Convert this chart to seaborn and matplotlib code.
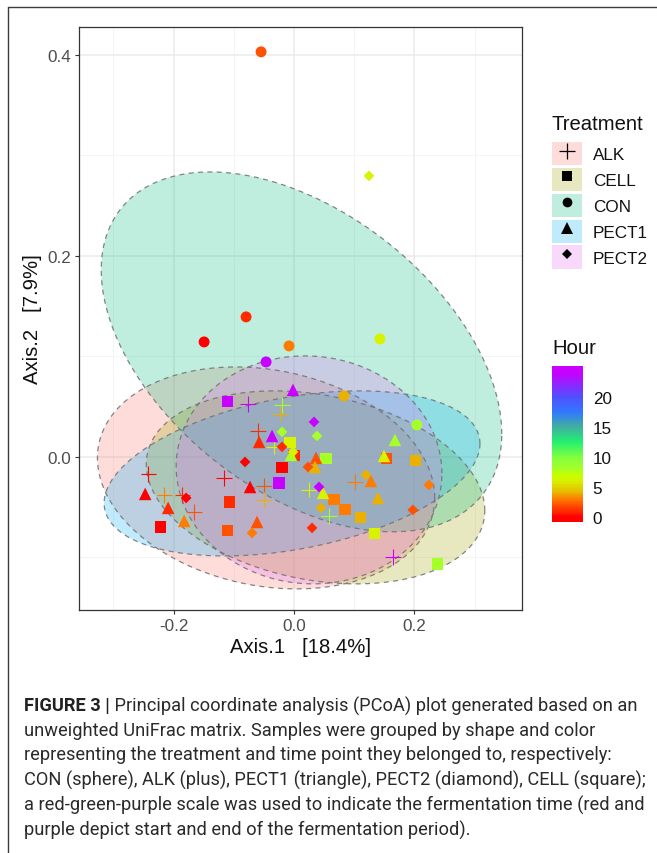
import numpy as np
import pandas as pd
import matplotlib
matplotlib.use("Agg")
import matplotlib.pyplot as plt
import seaborn as sns
from matplotlib.colors import LinearSegmentedColormap, Normalize
from matplotlib.cm import ScalarMappable
from matplotlib.patches import Patch
from matplotlib.lines import Line2D
from matplotlib.legend_handler import HandlerTuple
from matplotlib import font_manager
from matplotlib.font_manager import FontProperties

# ---------------- data ----------------
treatments = ["ALK", "CELL", "CON", "PECT1", "PECT2"]
treatment_fill = ["#F8766D", "#A3A500", "#00BF7D", "#00B0F6", "#E76BF3"]
treatment_marker = ["+", "s", "o", "^", "D"]

alk_x = [-0.0763, -0.0199, -0.0232, -0.0597, -0.0332, -0.2421, -0.1161, -0.0498,
         -0.2156, -0.1857, -0.1658, -0.0498, 0.0249, 0.1012, 0.0580, 0.1642]
alk_y = [0.0527, 0.0517, 0.0428, 0.0259, 0.0100, -0.0169, -0.0209, -0.0289,
         -0.0378, -0.0378, -0.0547, -0.0428, -0.0328, -0.0249, -0.0587, -0.0995]
alk_h = [24, 8, 4, 1, 6, 0, 0, 2, 3, 1, 2, 4, 6, 3, 8, 24]

cell_x = [-0.1111, -0.0066, 0.0000, -0.0199, -0.0249, -0.1078, -0.2222, -0.1111,
          0.0531, 0.1542, 0.2023, 0.0663, 0.0846, 0.1111, 0.1343, 0.2388]
cell_y = [0.0547, 0.0139, 0.0010, -0.0109, -0.0259, -0.0448, -0.0697, -0.0736,
          -0.0020, -0.0020, -0.0040, -0.0428, -0.0527, -0.0607, -0.0766, -0.1065]
cell_h = [24, 6, 1, 0, 24, 1, 0, 2, 8, 2, 4, 3, 3, 4, 6, 8]

con_x = [-0.0547, -0.0796, -0.1493, -0.0083, -0.0464, 0.1426, 0.0829, 0.2040]
con_y = [0.4030, 0.1393, 0.1144, 0.1104, 0.0945, 0.1174, 0.0607, 0.0318]
con_h = [2, 1, 0, 3, 24, 6, 4, 8]

pect1_x = [-0.0017, -0.0365, -0.0580, -0.0050, -0.2471, -0.0730, -0.2090, -0.1824,
           -0.0614, 0.0365, 0.0348, 0.1493, 0.1675, 0.1277, 0.0481, 0.1393]
pect1_y = [0.0667, 0.0209, 0.0149, 0.0020, -0.0368, -0.0299, -0.0507, -0.0637,
           -0.0647, -0.0010, -0.0100, 0.0010, 0.0169, -0.0239, -0.0358, -0.0408]
pect1_h = [24, 24, 1, 8, 0, 0, 1, 3, 2, 2, 4, 6, 8, 3, 6, 4]

pect2_x = [0.1244, -0.0199, -0.0199, -0.0813, -0.1791, -0.0697, 0.0332, 0.0381,
           -0.0017, 0.0232, 0.1194, 0.0415, 0.0448, 0.0299, 0.2239, 0.1973]
pect2_y = [0.2796, 0.0249, 0.0100, -0.0050, -0.0408, -0.0756, 0.0348, 0.0209,
           0.0050, -0.0100, -0.0179, -0.0299, -0.0507, -0.0706, -0.0279, -0.0527]
pect2_h = [6, 8, 1, 0, 0, 3, 24, 8, 6, 2, 4, 24, 4, 1, 3, 2]

# ellipse summaries per treatment (centre, half-extents, correlation)
ell_cx = [-0.0464, 0.0357, 0.0124, -0.0033, 0.0249]
ell_cy = [-0.0209, -0.0303, 0.1045, -0.0164, -0.0129]
ell_wx = [0.280, 0.281, 0.3325, 0.312, 0.2206]
ell_wy = [0.1104, 0.096, 0.179, 0.0821, 0.1134]
ell_rho = [-0.18, -0.24, -0.456, 0.36, -0.03]

x_ticks = [-0.2, 0.0, 0.2]
y_ticks = [0.0, 0.2, 0.4]
x_ticklabels = ["-0.2", "0.0", "0.2"]
y_ticklabels = ["0.0", "0.2", "0.4"]
hour_ticks = [0, 5, 10, 15, 20]

# hour colour scale
cmap_hours = [0, 1, 2, 3, 4, 6, 7, 8, 10, 12.5, 15, 17.5, 20, 24]
cmap_cols = ["#FF0000", "#FF2E00", "#FF5200", "#FF7B00", "#E9B400", "#D8F200",
             "#C4FF00", "#A6FF28", "#80FF40", "#22F070", "#40B0A0", "#3278FF",
             "#5050FF", "#C800FF"]
hmax = 24.0

frames = []
for name, xs, ys, hs in [("ALK", alk_x, alk_y, alk_h), ("CELL", cell_x, cell_y, cell_h),
                         ("CON", con_x, con_y, con_h), ("PECT1", pect1_x, pect1_y, pect1_h),
                         ("PECT2", pect2_x, pect2_y, pect2_h)]:
    frames.append(pd.DataFrame({"Treatment": name, "Axis.1": xs, "Axis.2": ys, "Hour": hs}))
df = pd.concat(frames, ignore_index=True)

# ---------------- style ----------------
sns.set_theme(style="white")
plt.rcParams["font.family"] = ["Liberation Sans", "DejaVu Sans"]

W, H = 657, 854
fig = plt.figure(figsize=(W / 100, H / 100), dpi=100)
fig.patch.set_facecolor("white")

def fx(px):
    return px / W

def fy(py):
    return 1 - py / H

L, R, T, B = 79, 521.7, 27.7, 610.7
ax = fig.add_axes([fx(L), fy(B), (R - L) / W, (B - T) / H])
ax.set_facecolor("white")

cmap = LinearSegmentedColormap.from_list(
    "hour", list(zip([h / hmax for h in cmap_hours], cmap_cols)))
norm = Normalize(0, hmax)

# ellipses
t = np.linspace(0, 2 * np.pi, 400)
for i, tr in enumerate(treatments):
    ex = ell_cx[i] + ell_wx[i] * np.cos(t)
    ey = ell_cy[i] + ell_wy[i] * (ell_rho[i] * np.cos(t) + np.sqrt(1 - ell_rho[i] ** 2) * np.sin(t))
    ax.fill(ex, ey, facecolor=treatment_fill[i], alpha=0.25, edgecolor="none", zorder=1)
    ax.plot(ex, ey, color="#707070", lw=0.9, alpha=0.85, linestyle=(0, (4, 3.5)), zorder=2)

# points
sizes = {"+": 120, "s": 64, "o": 62, "^": 82, "D": 30}
for i, tr in enumerate(treatments):
    sub = df[df["Treatment"] == tr]
    m = treatment_marker[i]
    kw = dict(linewidth=0.8) if m == "+" else dict(linewidth=0)
    sns.scatterplot(data=sub, x="Axis.1", y="Axis.2", hue="Hour", palette=cmap,
                    hue_norm=norm, marker=m, s=sizes[m], ax=ax, legend=False,
                    zorder=3, **kw)

fs_tick = 12.3
fs_title = 14.6

ax.set_xlim(-0.357, 0.378)
ax.set_ylim(-0.152, 0.428)
ax.set_xticks(x_ticks)
ax.set_xticklabels(x_ticklabels)
ax.set_yticks(y_ticks)
ax.set_yticklabels(y_ticklabels)
ax.set_xticks([-0.3, -0.1, 0.1, 0.3], minor=True)
ax.set_yticks([-0.1, 0.1, 0.3], minor=True)
ax.grid(True, which="major", color="#EBEBEB", lw=1.1, zorder=0)
ax.grid(True, which="minor", color="#F2F2F2", lw=0.6, zorder=0)
ax.set_axisbelow(True)
ax.tick_params(which="major", direction="out", length=3.2, width=0.8, color="#333333",
               labelsize=fs_tick, labelcolor="#4D4D4D", pad=2.5, bottom=True, left=True)
ax.tick_params(which="minor", length=0)
for sp in ax.spines.values():
    sp.set_color("#333333")
    sp.set_linewidth(0.9)
ax.set_xlabel("Axis.1   [18.4%]", fontsize=fs_title, color="#111111", labelpad=3)
ax.set_ylabel("Axis.2   [7.9%]", fontsize=fs_title, color="#111111", labelpad=4)

# treatment legend
fig.text(fx(552), fy(125), "Treatment", fontsize=fs_title, va="center", ha="left", color="#111111")
fs_leg = fs_tick
handles = []
leg_ms = {"+": 11, "s": 6.8, "o": 7.0, "^": 8.6, "D": 4.6}
for i, tr in enumerate(treatments):
    p = Patch(facecolor=treatment_fill[i], alpha=0.25, edgecolor="none")
    m = treatment_marker[i]
    ln = Line2D([], [], marker=m, color="black", linestyle="none", markersize=leg_ms[m],
                markeredgewidth=0.9 if m == "+" else 0)
    handles.append((p, ln))
fpx = fs_leg * 100 / 72
leg = fig.legend(handles, treatments, loc="upper left", bbox_to_anchor=(fx(552), fy(143)),
                 frameon=False, fontsize=fs_leg, handler_map={tuple: HandlerTuple(ndivide=1)},
                 handlelength=30 / fpx, handleheight=29.5 / fpx, labelspacing=2.5 / fpx,
                 handletextpad=11 / fpx, borderpad=0, borderaxespad=0, numpoints=1)
for txt in leg.get_texts():
    txt.set_color("#111111")

# hour colorbar
fig.text(fx(552), fy(349), "Hour", fontsize=fs_title, va="center", ha="left", color="#111111")
cb_top, cb_bot = 367, 523
cax = fig.add_axes([fx(552), fy(cb_bot), 31 / W, (cb_bot - cb_top) / H])
sm = ScalarMappable(norm=norm, cmap=cmap)
span = (cb_bot - cb_top) / 6.0
lo = -(cb_bot - 518) / 6.0
cb = fig.colorbar(sm, cax=cax, boundaries=np.linspace(lo, lo + span, 300))
cb.outline.set_visible(False)
cb.set_ticks(hour_ticks)
cb.set_ticklabels([str(h) for h in hour_ticks])
cax.tick_params(axis="y", direction="in", length=5, width=0.6, color="white",
                left=True, right=True, labelleft=False, labelright=True,
                labelsize=fs_leg, labelcolor="#111111", pad=7)

# outer frame of the figure panel
fig.add_artist(Line2D([fx(8), 1], [fy(8), fy(8)], transform=fig.transFigure, color="#3C3C3C", lw=1.0))
fig.add_artist(Line2D([fx(8), fx(8)], [0, fy(8)], transform=fig.transFigure, color="#3C3C3C", lw=1.0))

# caption
avail = {f.name for f in font_manager.fontManager.ttflist}
cap_font = "Roboto" if "Roboto" in avail else "Liberation Sans"
light_path = font_manager.findfont(FontProperties(family=cap_font, weight="light"))
cap_weight = "light" if "light" in light_path.lower() else "normal"
cap_lines = [
    " Principal coordinate analysis (PCoA) plot generated based on an",
    "unweighted UniFrac matrix. Samples were grouped by shape and color",
    "representing the treatment and time point they belonged to, respectively:",
    "CON (sphere), ALK (plus), PECT1 (triangle), PECT2 (diamond), CELL (square);",
    "a red-green-purple scale was used to indicate the fermentation time (red and",
    "purple depict start and end of the fermentation period).",
]
cap_y = [706, 731, 755.5, 780.5, 805.5, 830]
fs0 = 10.0
bold = fig.text(fx(24), fy(cap_y[0]), "FIGURE 3 |", fontsize=fs0, fontweight="bold",
                family=cap_font, va="center", ha="left", color="#222222")
rest = [fig.text(fx(24), fy(y), s, fontsize=fs0, family=cap_font, fontweight=cap_weight,
                 va="center", ha="left", color="#2A2A2A") for s, y in zip(cap_lines, cap_y)]
fig.canvas.draw()
rend = fig.canvas.get_renderer()
w4 = rest[3].get_window_extent(rend).width
scale = 621.0 / w4
for tx in [bold] + rest:
    tx.set_fontsize(fs0 * scale)
fig.canvas.draw()
bw = bold.get_window_extent(rend).width
rest[0].set_x(fx(24 + bw))

fig.savefig("out.png", dpi=100, facecolor="white")
